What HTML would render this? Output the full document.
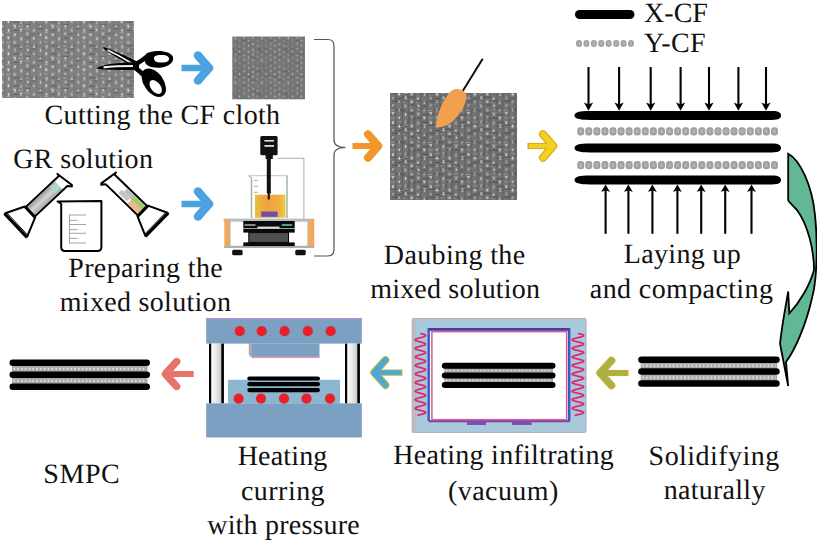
<!DOCTYPE html>
<html><head><meta charset="utf-8">
<style>
html,body{margin:0;padding:0;background:#fff;}
body{width:817px;height:542px;overflow:hidden;position:relative;}
svg{position:absolute;left:0;top:0;}
text{font-family:"Liberation Serif",serif;font-size:28px;fill:#111;text-rendering:geometricPrecision;}
</style></head><body>
<svg width="817" height="542" viewBox="0 0 817 542">
<defs>
<pattern id="cloth" width="37.8" height="32" patternUnits="userSpaceOnUse" ><rect width="37.8" height="32" fill="#828282"/><rect x="-0.7" y="1.3" width="3.3" height="1.0" fill="#5e5e5e"/><rect x="6.3" y="0.1" width="4.3" height="1" fill="#a0a0a0"/><rect x="11.8" y="0.8" width="6.3" height="1.0" fill="#5e5e5e"/><rect x="12.0" y="1.3" width="5.8" height="1" fill="#a0a0a0"/><rect x="25.9" y="0.6" width="3.4" height="1" fill="#a0a0a0"/><rect x="31.1" y="1.6" width="3.7" height="1.0" fill="#5e5e5e"/><rect x="5.4" y="4.4" width="5.0" height="1" fill="#a0a0a0"/><rect x="25.8" y="5.4" width="4.0" height="1.0" fill="#5e5e5e"/><rect x="6.1" y="9.5" width="3.5" height="1" fill="#a0a0a0"/><rect x="12.9" y="9.5" width="4.7" height="1" fill="#a0a0a0"/><rect x="13.0" y="13.3" width="7.0" height="1.0" fill="#5e5e5e"/><rect x="18.7" y="13.3" width="3.1" height="1.0" fill="#5e5e5e"/><rect x="24.4" y="12.1" width="6.1" height="1.0" fill="#5e5e5e"/><rect x="24.7" y="12.8" width="5.6" height="1" fill="#a0a0a0"/><rect x="31.4" y="13.1" width="6.5" height="1.0" fill="#5e5e5e"/><rect x="18.3" y="16.5" width="3.9" height="1.0" fill="#5e5e5e"/><rect x="31.3" y="16.7" width="5.3" height="1.0" fill="#5e5e5e"/><rect x="13.4" y="21.6" width="6.5" height="1.0" fill="#5e5e5e"/><rect x="25.5" y="20.1" width="3.3" height="1.0" fill="#5e5e5e"/><rect x="24.5" y="20.7" width="3.2" height="1" fill="#a0a0a0"/><rect x="30.8" y="20.2" width="4.5" height="1.0" fill="#5e5e5e"/><rect x="32.2" y="21.2" width="3.4" height="1" fill="#a0a0a0"/><rect x="-0.3" y="24.7" width="3.5" height="1.0" fill="#5e5e5e"/><rect x="11.8" y="24.7" width="3.8" height="1" fill="#a0a0a0"/><rect x="17.9" y="25.9" width="4.6" height="1" fill="#a0a0a0"/><rect x="25.3" y="24.1" width="5.1" height="1.0" fill="#5e5e5e"/><rect x="-0.3" y="28.3" width="6.1" height="1.0" fill="#5e5e5e"/><rect x="13.2" y="30.0" width="6.4" height="1.0" fill="#5e5e5e"/><rect x="25.2" y="28.7" width="3.1" height="1.0" fill="#5e5e5e"/><rect x="24.8" y="28.5" width="5.1" height="1" fill="#a0a0a0"/><rect x="4.8" y="0" width="0.8" height="32" fill="#727272"/><rect x="11.1" y="0" width="0.8" height="32" fill="#727272"/><rect x="17.4" y="0" width="0.8" height="32" fill="#727272"/><rect x="23.7" y="0" width="0.8" height="32" fill="#727272"/><rect x="30.0" y="0" width="0.8" height="32" fill="#727272"/><rect x="36.3" y="0" width="0.8" height="32" fill="#727272"/><rect x="1.9" y="1.5" width="1.4" height="2.3" fill="#e6e6e6"/><rect x="7.7" y="4.7" width="1.4" height="2.4" fill="#e6e6e6"/><rect x="14.3" y="1.4" width="1.4" height="2.8" fill="#d8d8d8"/><rect x="20.6" y="5.2" width="1.4" height="3.2" fill="#d8d8d8"/><rect x="26.6" y="0.6" width="1.4" height="2.8" fill="#c8c8c8"/><rect x="32.9" y="5.2" width="1.4" height="2.3" fill="#e6e6e6"/><rect x="1.9" y="9.1" width="1.4" height="2.7" fill="#b8b8b8"/><rect x="8.2" y="13.1" width="1.4" height="3.4" fill="#c8c8c8"/><rect x="13.9" y="8.9" width="1.4" height="3.2" fill="#b8b8b8"/><rect x="20.3" y="13.2" width="1.4" height="3.0" fill="#b8b8b8"/><rect x="26.7" y="8.8" width="1.4" height="2.2" fill="#c8c8c8"/><rect x="33.3" y="13.1" width="1.4" height="2.8" fill="#d8d8d8"/><rect x="1.9" y="16.7" width="1.4" height="3.2" fill="#c8c8c8"/><rect x="7.7" y="20.4" width="1.4" height="2.8" fill="#e6e6e6"/><rect x="14.4" y="16.5" width="1.4" height="3.2" fill="#b8b8b8"/><rect x="20.2" y="21.1" width="1.4" height="3.0" fill="#b8b8b8"/><rect x="27.0" y="16.8" width="1.4" height="2.8" fill="#c8c8c8"/><rect x="33.1" y="20.0" width="1.4" height="3.1" fill="#b8b8b8"/><rect x="1.7" y="25.2" width="1.4" height="2.4" fill="#c8c8c8"/><rect x="7.9" y="29.1" width="1.4" height="2.6" fill="#d8d8d8"/><rect x="14.2" y="24.8" width="1.4" height="3.3" fill="#d8d8d8"/><rect x="20.2" y="28.3" width="1.4" height="3.1" fill="#d8d8d8"/><rect x="26.8" y="24.8" width="1.4" height="2.7" fill="#d8d8d8"/><rect x="33.2" y="28.8" width="1.4" height="3.0" fill="#c8c8c8"/></pattern><pattern id="clothS" width="37.8" height="32" patternUnits="userSpaceOnUse" patternTransform="scale(0.7)"><rect width="37.8" height="32" fill="#767676"/><rect x="18.9" y="1.3" width="6.2" height="1.0" fill="#5a5a5a"/><rect x="18.5" y="0.2" width="5.4" height="1" fill="#929292"/><rect x="26.2" y="1.9" width="5.0" height="1" fill="#929292"/><rect x="30.5" y="1.1" width="3.2" height="1" fill="#929292"/><rect x="-0.5" y="4.1" width="4.9" height="1.0" fill="#5a5a5a"/><rect x="26.2" y="6.0" width="6.4" height="1.0" fill="#5a5a5a"/><rect x="31.0" y="4.6" width="3.3" height="1.0" fill="#5a5a5a"/><rect x="12.0" y="9.8" width="4.4" height="1" fill="#929292"/><rect x="25.5" y="9.6" width="4.1" height="1.0" fill="#5a5a5a"/><rect x="24.9" y="9.9" width="5.3" height="1" fill="#929292"/><rect x="31.0" y="8.2" width="3.2" height="1.0" fill="#5a5a5a"/><rect x="0.1" y="12.9" width="3.8" height="1.0" fill="#5a5a5a"/><rect x="6.6" y="12.2" width="4.7" height="1.0" fill="#5a5a5a"/><rect x="5.8" y="13.9" width="5.4" height="1" fill="#929292"/><rect x="13.4" y="12.4" width="4.6" height="1.0" fill="#5a5a5a"/><rect x="19.9" y="12.4" width="3.8" height="1" fill="#929292"/><rect x="30.6" y="12.2" width="5.3" height="1.0" fill="#5a5a5a"/><rect x="31.7" y="12.7" width="4.4" height="1" fill="#929292"/><rect x="11.9" y="17.8" width="6.3" height="1.0" fill="#5a5a5a"/><rect x="12.0" y="17.5" width="5.8" height="1" fill="#929292"/><rect x="19.8" y="17.8" width="5.4" height="1.0" fill="#5a5a5a"/><rect x="24.3" y="17.9" width="4.0" height="1.0" fill="#5a5a5a"/><rect x="32.1" y="17.2" width="4.2" height="1.0" fill="#5a5a5a"/><rect x="31.9" y="16.1" width="3.7" height="1" fill="#929292"/><rect x="11.6" y="20.5" width="4.3" height="1" fill="#929292"/><rect x="18.3" y="20.7" width="5.3" height="1.0" fill="#5a5a5a"/><rect x="18.6" y="21.8" width="5.9" height="1" fill="#929292"/><rect x="30.6" y="20.0" width="5.7" height="1" fill="#929292"/><rect x="6.6" y="25.0" width="5.9" height="1.0" fill="#5a5a5a"/><rect x="12.7" y="25.5" width="5.7" height="1" fill="#929292"/><rect x="31.8" y="30.0" width="6.5" height="1.0" fill="#5a5a5a"/><rect x="4.8" y="0" width="0.8" height="32" fill="#727272"/><rect x="11.1" y="0" width="0.8" height="32" fill="#727272"/><rect x="17.4" y="0" width="0.8" height="32" fill="#727272"/><rect x="23.7" y="0" width="0.8" height="32" fill="#727272"/><rect x="30.0" y="0" width="0.8" height="32" fill="#727272"/><rect x="36.3" y="0" width="0.8" height="32" fill="#727272"/><rect x="1.5" y="1.1" width="1.4" height="2.7" fill="#9a9a9a"/><rect x="8.1" y="4.1" width="1.4" height="2.6" fill="#b8b8b8"/><rect x="14.0" y="0.0" width="1.4" height="2.8" fill="#b8b8b8"/><rect x="20.6" y="5.4" width="1.4" height="3.3" fill="#c8c8c8"/><rect x="26.7" y="0.2" width="1.4" height="2.8" fill="#a8a8a8"/><rect x="33.3" y="4.5" width="1.4" height="2.8" fill="#9a9a9a"/><rect x="1.4" y="8.6" width="1.4" height="2.4" fill="#c8c8c8"/><rect x="7.9" y="13.2" width="1.4" height="3.3" fill="#a8a8a8"/><rect x="14.1" y="8.9" width="1.4" height="2.5" fill="#c8c8c8"/><rect x="20.3" y="12.5" width="1.4" height="3.1" fill="#b8b8b8"/><rect x="27.1" y="8.4" width="1.4" height="2.3" fill="#a8a8a8"/><rect x="33.1" y="13.4" width="1.4" height="2.7" fill="#9a9a9a"/><rect x="1.6" y="17.0" width="1.4" height="2.6" fill="#9a9a9a"/><rect x="8.1" y="20.4" width="1.4" height="3.0" fill="#b8b8b8"/><rect x="14.1" y="16.5" width="1.4" height="3.0" fill="#b8b8b8"/><rect x="20.4" y="20.3" width="1.4" height="2.5" fill="#c8c8c8"/><rect x="26.6" y="16.1" width="1.4" height="2.7" fill="#b8b8b8"/><rect x="33.2" y="21.0" width="1.4" height="3.4" fill="#c8c8c8"/><rect x="1.7" y="24.3" width="1.4" height="2.5" fill="#9a9a9a"/><rect x="8.0" y="29.1" width="1.4" height="2.4" fill="#b8b8b8"/><rect x="14.1" y="24.5" width="1.4" height="2.7" fill="#a8a8a8"/><rect x="20.7" y="29.4" width="1.4" height="2.7" fill="#b8b8b8"/><rect x="27.0" y="24.6" width="1.4" height="2.7" fill="#9a9a9a"/><rect x="33.2" y="29.4" width="1.4" height="2.9" fill="#9a9a9a"/></pattern><pattern id="clothB" width="37.8" height="32" patternUnits="userSpaceOnUse" ><rect width="37.8" height="32" fill="#747474"/><rect x="18.8" y="1.9" width="5.6" height="1.4" fill="#585858"/><rect x="25.1" y="0.5" width="5.2" height="1.4" fill="#585858"/><rect x="30.9" y="0.6" width="6.7" height="1.4" fill="#585858"/><rect x="0.6" y="4.3" width="5.5" height="1.4" fill="#585858"/><rect x="-1.0" y="5.7" width="3.6" height="1" fill="#929292"/><rect x="7.3" y="5.7" width="4.2" height="1.4" fill="#585858"/><rect x="13.0" y="4.4" width="6.8" height="1.4" fill="#585858"/><rect x="24.9" y="4.3" width="3.6" height="1.4" fill="#585858"/><rect x="24.8" y="5.2" width="3.0" height="1" fill="#929292"/><rect x="31.1" y="5.6" width="4.4" height="1" fill="#929292"/><rect x="-0.0" y="9.4" width="3.2" height="1.4" fill="#585858"/><rect x="6.8" y="9.7" width="3.1" height="1.4" fill="#585858"/><rect x="12.8" y="8.0" width="3.2" height="1.4" fill="#585858"/><rect x="13.5" y="8.4" width="5.3" height="1" fill="#929292"/><rect x="24.9" y="9.0" width="6.1" height="1.4" fill="#585858"/><rect x="25.7" y="9.6" width="5.6" height="1" fill="#929292"/><rect x="32.4" y="8.2" width="4.4" height="1.4" fill="#585858"/><rect x="0.8" y="13.1" width="3.9" height="1" fill="#929292"/><rect x="5.7" y="12.2" width="3.6" height="1.4" fill="#585858"/><rect x="11.7" y="14.0" width="4.6" height="1" fill="#929292"/><rect x="18.4" y="13.2" width="6.3" height="1.4" fill="#585858"/><rect x="24.3" y="13.8" width="3.1" height="1.4" fill="#585858"/><rect x="32.0" y="13.9" width="4.9" height="1" fill="#929292"/><rect x="-0.1" y="16.3" width="5.5" height="1" fill="#929292"/><rect x="6.2" y="18.0" width="6.4" height="1.4" fill="#585858"/><rect x="12.6" y="17.5" width="4.9" height="1.4" fill="#585858"/><rect x="12.4" y="16.3" width="4.1" height="1" fill="#929292"/><rect x="30.7" y="16.5" width="6.1" height="1.4" fill="#585858"/><rect x="0.6" y="21.5" width="5.8" height="1.4" fill="#585858"/><rect x="12.6" y="21.5" width="5.1" height="1" fill="#929292"/><rect x="19.8" y="21.3" width="5.3" height="1.4" fill="#585858"/><rect x="19.0" y="20.5" width="5.0" height="1" fill="#929292"/><rect x="25.8" y="21.3" width="6.2" height="1.4" fill="#585858"/><rect x="25.5" y="21.5" width="5.5" height="1" fill="#929292"/><rect x="32.2" y="21.7" width="5.8" height="1.4" fill="#585858"/><rect x="5.6" y="25.7" width="6.7" height="1.4" fill="#585858"/><rect x="19.5" y="25.2" width="5.0" height="1" fill="#929292"/><rect x="25.4" y="25.5" width="5.5" height="1.4" fill="#585858"/><rect x="30.8" y="24.9" width="5.6" height="1.4" fill="#585858"/><rect x="31.9" y="25.3" width="3.1" height="1" fill="#929292"/><rect x="-0.5" y="28.1" width="3.5" height="1.4" fill="#585858"/><rect x="-0.6" y="28.4" width="3.1" height="1" fill="#929292"/><rect x="6.1" y="29.2" width="5.4" height="1.4" fill="#585858"/><rect x="7.1" y="28.0" width="4.2" height="1" fill="#929292"/><rect x="12.4" y="28.2" width="6.3" height="1.4" fill="#585858"/><rect x="19.1" y="28.2" width="5.2" height="1.4" fill="#585858"/><rect x="19.1" y="29.9" width="5.5" height="1" fill="#929292"/><rect x="25.8" y="29.3" width="4.5" height="1.4" fill="#585858"/><rect x="25.4" y="29.1" width="5.9" height="1" fill="#929292"/><rect x="4.8" y="0" width="0.8" height="32" fill="#585858"/><rect x="11.1" y="0" width="0.8" height="32" fill="#585858"/><rect x="17.4" y="0" width="0.8" height="32" fill="#585858"/><rect x="23.7" y="0" width="0.8" height="32" fill="#585858"/><rect x="30.0" y="0" width="0.8" height="32" fill="#585858"/><rect x="36.3" y="0" width="0.8" height="32" fill="#585858"/><rect x="1.5" y="1.3" width="1.4" height="2.7" fill="#d0d0d0"/><rect x="7.8" y="5.4" width="1.4" height="2.6" fill="#c0c0c0"/><rect x="14.4" y="0.8" width="1.4" height="2.7" fill="#b0b0b0"/><rect x="20.3" y="4.4" width="1.4" height="2.7" fill="#b0b0b0"/><rect x="27.0" y="0.2" width="1.4" height="3.1" fill="#e0e0e0"/><rect x="33.0" y="4.4" width="1.4" height="2.6" fill="#d0d0d0"/><rect x="1.9" y="8.7" width="1.4" height="2.4" fill="#e0e0e0"/><rect x="7.6" y="13.0" width="1.4" height="2.5" fill="#b0b0b0"/><rect x="13.9" y="8.2" width="1.4" height="2.2" fill="#b0b0b0"/><rect x="20.5" y="12.4" width="1.4" height="3.1" fill="#b0b0b0"/><rect x="26.6" y="8.4" width="1.4" height="3.1" fill="#c0c0c0"/><rect x="33.0" y="12.7" width="1.4" height="2.8" fill="#b0b0b0"/><rect x="1.8" y="17.3" width="1.4" height="2.2" fill="#d0d0d0"/><rect x="7.7" y="20.4" width="1.4" height="2.9" fill="#e0e0e0"/><rect x="14.3" y="16.0" width="1.4" height="2.6" fill="#e0e0e0"/><rect x="20.6" y="20.9" width="1.4" height="2.2" fill="#d0d0d0"/><rect x="26.8" y="17.0" width="1.4" height="3.3" fill="#d0d0d0"/><rect x="33.1" y="20.0" width="1.4" height="2.9" fill="#b0b0b0"/><rect x="1.7" y="25.4" width="1.4" height="3.2" fill="#b0b0b0"/><rect x="8.1" y="28.7" width="1.4" height="3.3" fill="#c0c0c0"/><rect x="14.2" y="25.1" width="1.4" height="3.2" fill="#e0e0e0"/><rect x="20.6" y="28.6" width="1.4" height="3.0" fill="#e0e0e0"/><rect x="26.8" y="24.5" width="1.4" height="2.8" fill="#c0c0c0"/><rect x="33.1" y="28.7" width="1.4" height="2.8" fill="#e0e0e0"/></pattern>
  <linearGradient id="tubeg" x1="0" y1="0" x2="1" y2="0"><stop offset="0" stop-color="#9a9a9a"/><stop offset="0.5" stop-color="#d4d4d4"/><stop offset="1" stop-color="#a4a4a4"/></linearGradient>
  <linearGradient id="liq" x1="0" y1="0" x2="1" y2="0"><stop offset="0" stop-color="#e8c040"/><stop offset="0.4" stop-color="#f0a040"/><stop offset="0.8" stop-color="#f0b040"/><stop offset="1" stop-color="#e8d040"/></linearGradient>
  <linearGradient id="pillar" x1="0" y1="0" x2="1" y2="0"><stop offset="0" stop-color="#ffffff"/><stop offset="0.5" stop-color="#e8e8e8"/><stop offset="1" stop-color="#b8b8b8"/></linearGradient>
</defs>
<rect x="2" y="21" width="132" height="77" fill="url(#cloth)"/>
<rect x="232.3" y="36.5" width="72.7" height="62.8" fill="url(#clothS)"/>
<rect x="390" y="93" width="127" height="107" fill="url(#clothB)"/>
<g transform="translate(181.00,51.00) scale(1.0000,1.0000)"><line x1="0.5" y1="17" x2="26" y2="17" stroke="#4aa3df" stroke-width="6.50" /><polyline points="17,4.5 28,17 17,29.5" fill="none" stroke="#4aa3df" stroke-width="8.50" stroke-linecap="round" stroke-linejoin="round"/></g>
<g transform="translate(181.00,187.00) scale(1.0000,1.0000)"><line x1="0.5" y1="17" x2="26" y2="17" stroke="#4aa3df" stroke-width="6.50" /><polyline points="17,4.5 28,17 17,29.5" fill="none" stroke="#4aa3df" stroke-width="8.50" stroke-linecap="round" stroke-linejoin="round"/></g>
<g transform="translate(352.00,130.00) scale(0.9375,0.9412)"><line x1="0.5" y1="17" x2="26" y2="17" stroke="#f0962a" stroke-width="6.50" /><polyline points="17,4.5 28,17 17,29.5" fill="none" stroke="#f0962a" stroke-width="8.50" stroke-linecap="round" stroke-linejoin="round"/></g>
<g transform="translate(527.00,130.00) scale(0.9375,0.9412)"><line x1="0.5" y1="17" x2="26" y2="17" stroke="#d8a818" stroke-width="6.50" /><polyline points="17,4.5 28,17 17,29.5" fill="none" stroke="#d8a818" stroke-width="8.50" stroke-linecap="round" stroke-linejoin="round"/><line x1="2" y1="17" x2="25" y2="17" stroke="#f4d020" stroke-width="4.50"/><polyline points="17,4.5 28,17 17,29.5" fill="none" stroke="#f4d020" stroke-width="6.10" stroke-linecap="round" stroke-linejoin="round"/></g>
<g>
  <path d="M103.5,47 C112,49.5 127,56.5 138.5,62 L136,68 C124,62 111,54 103.5,48.6 Z" fill="#000"/>
  <path d="M107.5,50 C115,53.5 124,58.5 132,63.5" stroke="#f0f0f0" stroke-width="1.8" fill="none"/>
  <path d="M97,67.8 C104,63.8 122,62.4 139,62 L139,70 C122,70.2 104,70 97,68.6 Z" fill="#000"/>
  <path d="M103.5,67.3 C112,66.3 124,66 133,66" stroke="#f0f0f0" stroke-width="2.2" fill="none"/>
  <path d="M134,64.5 C140,63 143,59 148,56" stroke="#000" stroke-width="4.5" fill="none"/>
  <path d="M146,54 C151,50 168,49.5 172.5,56 C175.5,62 168,67.7 158,67.7 C150,67.7 143,65 145,58 Z" fill="#000"/>
  <path d="M154,58 C154,55.5 158,55 162,55 C167,55 169.5,57 169,59.5 C168.5,62 165,62.5 160,62.5 C156,62.5 154,61 154,58 Z" fill="#fff"/>
  <path d="M134,67 C138,70 141,72 143,75" stroke="#000" stroke-width="4.5" fill="none"/>
  <ellipse cx="153.8" cy="82.7" rx="16" ry="9.8" transform="rotate(55 153.8 82.7)" fill="#000"/>
  <ellipse cx="155.7" cy="87" rx="8" ry="4.8" transform="rotate(52 155.7 87)" fill="#fff"/>
</g>
<path d="M314,39.5 L328,39.5 Q334,39.5 334,46 L334,140 Q334,147.5 345.5,147.5 Q334,147.5 334,155 L334,249 Q334,256 328,256 L314,256" fill="none" stroke="#555" stroke-width="1.2"/>
<g transform="translate(64.3,179.8) rotate(46.8)">
  <path d="M-6.5,1 L-6.5,47 L6.5,47 L6.5,2 L10,-1 L9,-2 L-9,1 Z" fill="#fff" stroke="#000" stroke-width="2" stroke-linejoin="round"/>
  <rect x="-5.5" y="8" width="11" height="38" fill="url(#tubeg)"/>
  <rect x="-4.5" y="8" width="8" height="8" fill="#a8dcd4" opacity="0.85"/>
  <path d="M-7.5,47 L7.5,47 L16,66 L-16,66 Z" fill="#fff" stroke="#000" stroke-width="2" stroke-linejoin="round"/>
  <rect x="-7.5" y="45.5" width="15" height="3" fill="#000"/>
  <path d="M-16.5,67 L16.5,67" stroke="#000" stroke-width="2.4"/>
  <path d="M-15,64.5 L15,64.5" stroke="#000" stroke-width="0.9"/>
</g>
<g transform="translate(109,178.3) rotate(-45.9)">
  <path d="M6.5,1 L6.5,47 L-6.5,47 L-6.5,2 L-10,-1 L-9,-2 L9,1 Z" fill="#fff" stroke="#000" stroke-width="2" stroke-linejoin="round"/>
  <rect x="-4" y="17" width="4.5" height="12" fill="#c4c4c4"/>
  <rect x="0.5" y="20" width="5" height="9" fill="#b8c0cc"/>
  <rect x="0" y="29" width="5.5" height="17" fill="#a8c870"/>
  <rect x="-5.5" y="31" width="6" height="15" fill="#e8b890"/>
  <path d="M-7.5,47 L7.5,47 L16,66 L-16,66 Z" fill="#fff" stroke="#000" stroke-width="2" stroke-linejoin="round"/>
  <rect x="-7.5" y="45.5" width="15" height="3" fill="#000"/>
  <path d="M-16.5,67 L16.5,67" stroke="#000" stroke-width="2.4"/>
  <path d="M-15,64.5 L15,64.5" stroke="#000" stroke-width="0.9"/>
</g>
<path d="M57.5,201.5 L60,203 L61.2,204 L61.2,247 Q61.2,251 65,251 L97.5,251 Q101.4,251 101.4,247 L101.4,201 L57.5,201.5 Z" fill="#fff" stroke="#000" stroke-width="2" stroke-linejoin="round"/>
<g stroke="#999" stroke-width="0.9">
  <path d="M69.5,214.5 L69.5,243.5"/>
  <path d="M69.5,215 L86,215 M69.5,220.3 L77.7,220.3 M69.5,224.5 L86,224.5 M69.5,229.6 L77.7,229.6 M69.5,233.3 L86,233.3 M69.5,238.4 L77.7,238.4 M69.5,243 L86,243"/>
</g>
<g>
  <path d="M277.6,158.3 L303.9,158.3 L303.9,218.7" fill="none" stroke="#aaa" stroke-width="1"/>
  <rect x="255" y="194.7" width="30.5" height="23" fill="url(#liq)"/>
  <rect x="261.2" y="211.5" width="16.4" height="5.3" fill="#6a50a8"/>
  <path d="M249,176 L251.5,178 L251.5,218 M287,175.6 L287,218" fill="none" stroke="#9fb5ae" stroke-width="1.5"/>
  <path d="M248.5,175.6 L287.5,175.6" stroke="#c8d0cc" stroke-width="1.2"/>
  <path d="M254,180.4 L258,180.4 M254,186.4 L258,186.4 M254,192.3 L258,192.3" stroke="#9fb5ae" stroke-width="1"/>
  <rect x="260.3" y="136" width="17.3" height="19.2" rx="1.5" fill="#111"/>
  <rect x="264.4" y="140" width="9.6" height="1.6" fill="#ddd"/>
  <rect x="264.4" y="145" width="9.6" height="1.8" fill="#ddd"/>
  <rect x="265.6" y="155" width="7.2" height="4" fill="#111"/>
  <rect x="266.8" y="158.5" width="4" height="35" fill="#111"/>
  <rect x="267.8" y="193" width="2" height="6.5" fill="#111"/>
  <rect x="223.6" y="218.6" width="90.6" height="3" fill="#b8bcc0"/>
  <rect x="224.3" y="219.8" width="6.1" height="28.2" fill="#f0a860"/>
  <rect x="307.5" y="219.8" width="6.7" height="28.2" fill="#f0a860"/>
  <rect x="230.4" y="221.6" width="77.1" height="24.4" fill="#fff" stroke="#c8d4dc" stroke-width="1"/>
  <rect x="224.3" y="246" width="89.9" height="2" fill="#b0b0b0"/>
  <rect x="243.3" y="221" width="51.4" height="7.4" fill="#0a0a0a"/>
  <rect x="244.5" y="224" width="11" height="2" fill="#888"/>
  <rect x="281.8" y="224" width="10.4" height="2" fill="#5a9a88"/>
  <rect x="257.5" y="226.6" width="22" height="2" fill="#ddd"/>
  <rect x="243.3" y="229" width="51.4" height="3.6" fill="#0a0a0a"/>
  <rect x="248.8" y="232.6" width="39.7" height="9.8" fill="#505050" stroke="#000" stroke-width="1"/>
  <rect x="243.3" y="242.4" width="51.4" height="3.7" fill="#0a0a0a"/>
  <rect x="232.2" y="249.8" width="10.4" height="5.5" rx="1.5" fill="#111"/>
  <rect x="295.3" y="249.8" width="10.4" height="5.5" rx="1.5" fill="#111"/>
</g>
<path d="M482.7,58.8 L462.6,91.3" stroke="#111" stroke-width="2"/>
<path d="M436,127 C436,118 441,104 447,96 C450,91 453,89 457,89 C462,89 467,92 466.5,97 C466,104 461,113 455,119 C450,124 444,128 436,127 Z" fill="#f0a050"/>
<rect x="575" y="10" width="59.5" height="9" rx="4.5" fill="#000"/>
<rect x="576.00" y="39.90" width="6.00" height="7.20" rx="3" fill="#a0a0a0"/>
<rect x="577.80" y="41.50" width="2.40" height="4.00" fill="#b4b4b4"/>
<rect x="583.43" y="39.90" width="6.00" height="7.20" rx="3" fill="#a0a0a0"/>
<rect x="585.23" y="41.50" width="2.40" height="4.00" fill="#b4b4b4"/>
<rect x="590.86" y="39.90" width="6.00" height="7.20" rx="3" fill="#a0a0a0"/>
<rect x="592.66" y="41.50" width="2.40" height="4.00" fill="#b4b4b4"/>
<rect x="598.29" y="39.90" width="6.00" height="7.20" rx="3" fill="#a0a0a0"/>
<rect x="600.09" y="41.50" width="2.40" height="4.00" fill="#b4b4b4"/>
<rect x="605.71" y="39.90" width="6.00" height="7.20" rx="3" fill="#a0a0a0"/>
<rect x="607.51" y="41.50" width="2.40" height="4.00" fill="#b4b4b4"/>
<rect x="613.14" y="39.90" width="6.00" height="7.20" rx="3" fill="#a0a0a0"/>
<rect x="614.94" y="41.50" width="2.40" height="4.00" fill="#b4b4b4"/>
<rect x="620.57" y="39.90" width="6.00" height="7.20" rx="3" fill="#a0a0a0"/>
<rect x="622.37" y="41.50" width="2.40" height="4.00" fill="#b4b4b4"/>
<rect x="628.00" y="39.90" width="6.00" height="7.20" rx="3" fill="#a0a0a0"/>
<rect x="629.80" y="41.50" width="2.40" height="4.00" fill="#b4b4b4"/>
<line x1="588.5" y1="67" x2="588.5" y2="105" stroke="#000" stroke-width="2.1"/><path d="M588.5,110.8 L583.9,102.6 L588.5,104.6 L593.1,102.6 Z" fill="#000"/>
<line x1="619.1" y1="67" x2="619.1" y2="105" stroke="#000" stroke-width="2.1"/><path d="M619.1,110.8 L614.5,102.6 L619.1,104.6 L623.7,102.6 Z" fill="#000"/>
<line x1="650.7" y1="67" x2="650.7" y2="105" stroke="#000" stroke-width="2.1"/><path d="M650.7,110.8 L646.1,102.6 L650.7,104.6 L655.3,102.6 Z" fill="#000"/>
<line x1="680.6" y1="67" x2="680.6" y2="105" stroke="#000" stroke-width="2.1"/><path d="M680.6,110.8 L676.0,102.6 L680.6,104.6 L685.2,102.6 Z" fill="#000"/>
<line x1="709.0" y1="67" x2="709.0" y2="105" stroke="#000" stroke-width="2.1"/><path d="M709.0,110.8 L704.4,102.6 L709.0,104.6 L713.6,102.6 Z" fill="#000"/>
<line x1="738.4" y1="67" x2="738.4" y2="105" stroke="#000" stroke-width="2.1"/><path d="M738.4,110.8 L733.8,102.6 L738.4,104.6 L743.0,102.6 Z" fill="#000"/>
<line x1="766.0" y1="67" x2="766.0" y2="105" stroke="#000" stroke-width="2.1"/><path d="M766.0,110.8 L761.4,102.6 L766.0,104.6 L770.6,102.6 Z" fill="#000"/>
<line x1="605.6" y1="233.8" x2="605.6" y2="189" stroke="#000" stroke-width="2.1"/><path d="M605.6,184.6 L601.2,192 L605.6,190.2 L610.0,192 Z" fill="#000"/>
<line x1="628.4" y1="233.8" x2="628.4" y2="189" stroke="#000" stroke-width="2.1"/><path d="M628.4,184.6 L624.0,192 L628.4,190.2 L632.8,192 Z" fill="#000"/>
<line x1="652.4" y1="233.8" x2="652.4" y2="189" stroke="#000" stroke-width="2.1"/><path d="M652.4,184.6 L648.0,192 L652.4,190.2 L656.8,192 Z" fill="#000"/>
<line x1="677.4" y1="233.8" x2="677.4" y2="189" stroke="#000" stroke-width="2.1"/><path d="M677.4,184.6 L673.0,192 L677.4,190.2 L681.8,192 Z" fill="#000"/>
<line x1="701.2" y1="233.8" x2="701.2" y2="189" stroke="#000" stroke-width="2.1"/><path d="M701.2,184.6 L696.8,192 L701.2,190.2 L705.6,192 Z" fill="#000"/>
<line x1="725.2" y1="233.8" x2="725.2" y2="189" stroke="#000" stroke-width="2.1"/><path d="M725.2,184.6 L720.8,192 L725.2,190.2 L729.6,192 Z" fill="#000"/>
<line x1="751.5" y1="233.8" x2="751.5" y2="189" stroke="#000" stroke-width="2.1"/><path d="M751.5,184.6 L747.1,192 L751.5,190.2 L755.9,192 Z" fill="#000"/>
<path d="M574.5,115.5 C574.5,112.5 579,111.1 590,111.1 L772,111.1 C779,111.1 781,113.0 781,115.5 C781,118.0 779,119.9 772,119.9 L590,119.9 C579,119.9 574.5,118.5 574.5,115.5 Z" fill="#000"/>
<path d="M574.5,148.0 C574.5,145.0 579,143.6 590,143.6 L772,143.6 C779,143.6 781,145.5 781,148.0 C781,150.5 779,152.4 772,152.4 L590,152.4 C579,152.4 574.5,151.0 574.5,148.0 Z" fill="#000"/>
<path d="M574.5,180.0 C574.5,177.0 579,175.6 590,175.6 L772,175.6 C779,175.6 781,177.5 781,180.0 C781,182.5 779,184.4 772,184.4 L590,184.4 C579,184.4 574.5,183.0 574.5,180.0 Z" fill="#000"/>
<rect x="577.20" y="127.20" width="7.00" height="8.20" rx="3" fill="#a0a0a0"/>
<rect x="579.50" y="129.30" width="2.40" height="4.00" fill="#b4b4b4"/>
<rect x="585.28" y="127.20" width="7.00" height="8.20" rx="3" fill="#a0a0a0"/>
<rect x="587.58" y="129.30" width="2.40" height="4.00" fill="#b4b4b4"/>
<rect x="593.35" y="127.20" width="7.00" height="8.20" rx="3" fill="#a0a0a0"/>
<rect x="595.65" y="129.30" width="2.40" height="4.00" fill="#b4b4b4"/>
<rect x="601.43" y="127.20" width="7.00" height="8.20" rx="3" fill="#a0a0a0"/>
<rect x="603.73" y="129.30" width="2.40" height="4.00" fill="#b4b4b4"/>
<rect x="609.50" y="127.20" width="7.00" height="8.20" rx="3" fill="#a0a0a0"/>
<rect x="611.80" y="129.30" width="2.40" height="4.00" fill="#b4b4b4"/>
<rect x="617.58" y="127.20" width="7.00" height="8.20" rx="3" fill="#a0a0a0"/>
<rect x="619.88" y="129.30" width="2.40" height="4.00" fill="#b4b4b4"/>
<rect x="625.65" y="127.20" width="7.00" height="8.20" rx="3" fill="#a0a0a0"/>
<rect x="627.95" y="129.30" width="2.40" height="4.00" fill="#b4b4b4"/>
<rect x="633.73" y="127.20" width="7.00" height="8.20" rx="3" fill="#a0a0a0"/>
<rect x="636.02" y="129.30" width="2.40" height="4.00" fill="#b4b4b4"/>
<rect x="641.80" y="127.20" width="7.00" height="8.20" rx="3" fill="#a0a0a0"/>
<rect x="644.10" y="129.30" width="2.40" height="4.00" fill="#b4b4b4"/>
<rect x="649.88" y="127.20" width="7.00" height="8.20" rx="3" fill="#a0a0a0"/>
<rect x="652.17" y="129.30" width="2.40" height="4.00" fill="#b4b4b4"/>
<rect x="657.95" y="127.20" width="7.00" height="8.20" rx="3" fill="#a0a0a0"/>
<rect x="660.25" y="129.30" width="2.40" height="4.00" fill="#b4b4b4"/>
<rect x="666.02" y="127.20" width="7.00" height="8.20" rx="3" fill="#a0a0a0"/>
<rect x="668.32" y="129.30" width="2.40" height="4.00" fill="#b4b4b4"/>
<rect x="674.10" y="127.20" width="7.00" height="8.20" rx="3" fill="#a0a0a0"/>
<rect x="676.40" y="129.30" width="2.40" height="4.00" fill="#b4b4b4"/>
<rect x="682.17" y="127.20" width="7.00" height="8.20" rx="3" fill="#a0a0a0"/>
<rect x="684.47" y="129.30" width="2.40" height="4.00" fill="#b4b4b4"/>
<rect x="690.25" y="127.20" width="7.00" height="8.20" rx="3" fill="#a0a0a0"/>
<rect x="692.55" y="129.30" width="2.40" height="4.00" fill="#b4b4b4"/>
<rect x="698.33" y="127.20" width="7.00" height="8.20" rx="3" fill="#a0a0a0"/>
<rect x="700.62" y="129.30" width="2.40" height="4.00" fill="#b4b4b4"/>
<rect x="706.40" y="127.20" width="7.00" height="8.20" rx="3" fill="#a0a0a0"/>
<rect x="708.70" y="129.30" width="2.40" height="4.00" fill="#b4b4b4"/>
<rect x="714.48" y="127.20" width="7.00" height="8.20" rx="3" fill="#a0a0a0"/>
<rect x="716.77" y="129.30" width="2.40" height="4.00" fill="#b4b4b4"/>
<rect x="722.55" y="127.20" width="7.00" height="8.20" rx="3" fill="#a0a0a0"/>
<rect x="724.85" y="129.30" width="2.40" height="4.00" fill="#b4b4b4"/>
<rect x="730.62" y="127.20" width="7.00" height="8.20" rx="3" fill="#a0a0a0"/>
<rect x="732.92" y="129.30" width="2.40" height="4.00" fill="#b4b4b4"/>
<rect x="738.70" y="127.20" width="7.00" height="8.20" rx="3" fill="#a0a0a0"/>
<rect x="741.00" y="129.30" width="2.40" height="4.00" fill="#b4b4b4"/>
<rect x="746.77" y="127.20" width="7.00" height="8.20" rx="3" fill="#a0a0a0"/>
<rect x="749.07" y="129.30" width="2.40" height="4.00" fill="#b4b4b4"/>
<rect x="754.85" y="127.20" width="7.00" height="8.20" rx="3" fill="#a0a0a0"/>
<rect x="757.15" y="129.30" width="2.40" height="4.00" fill="#b4b4b4"/>
<rect x="762.92" y="127.20" width="7.00" height="8.20" rx="3" fill="#a0a0a0"/>
<rect x="765.22" y="129.30" width="2.40" height="4.00" fill="#b4b4b4"/>
<rect x="771.00" y="127.20" width="7.00" height="8.20" rx="3" fill="#a0a0a0"/>
<rect x="773.30" y="129.30" width="2.40" height="4.00" fill="#b4b4b4"/>
<rect x="577.20" y="161.10" width="7.00" height="8.20" rx="3" fill="#a0a0a0"/>
<rect x="579.50" y="163.20" width="2.40" height="4.00" fill="#b4b4b4"/>
<rect x="585.28" y="161.10" width="7.00" height="8.20" rx="3" fill="#a0a0a0"/>
<rect x="587.58" y="163.20" width="2.40" height="4.00" fill="#b4b4b4"/>
<rect x="593.35" y="161.10" width="7.00" height="8.20" rx="3" fill="#a0a0a0"/>
<rect x="595.65" y="163.20" width="2.40" height="4.00" fill="#b4b4b4"/>
<rect x="601.43" y="161.10" width="7.00" height="8.20" rx="3" fill="#a0a0a0"/>
<rect x="603.73" y="163.20" width="2.40" height="4.00" fill="#b4b4b4"/>
<rect x="609.50" y="161.10" width="7.00" height="8.20" rx="3" fill="#a0a0a0"/>
<rect x="611.80" y="163.20" width="2.40" height="4.00" fill="#b4b4b4"/>
<rect x="617.58" y="161.10" width="7.00" height="8.20" rx="3" fill="#a0a0a0"/>
<rect x="619.88" y="163.20" width="2.40" height="4.00" fill="#b4b4b4"/>
<rect x="625.65" y="161.10" width="7.00" height="8.20" rx="3" fill="#a0a0a0"/>
<rect x="627.95" y="163.20" width="2.40" height="4.00" fill="#b4b4b4"/>
<rect x="633.73" y="161.10" width="7.00" height="8.20" rx="3" fill="#a0a0a0"/>
<rect x="636.02" y="163.20" width="2.40" height="4.00" fill="#b4b4b4"/>
<rect x="641.80" y="161.10" width="7.00" height="8.20" rx="3" fill="#a0a0a0"/>
<rect x="644.10" y="163.20" width="2.40" height="4.00" fill="#b4b4b4"/>
<rect x="649.88" y="161.10" width="7.00" height="8.20" rx="3" fill="#a0a0a0"/>
<rect x="652.17" y="163.20" width="2.40" height="4.00" fill="#b4b4b4"/>
<rect x="657.95" y="161.10" width="7.00" height="8.20" rx="3" fill="#a0a0a0"/>
<rect x="660.25" y="163.20" width="2.40" height="4.00" fill="#b4b4b4"/>
<rect x="666.02" y="161.10" width="7.00" height="8.20" rx="3" fill="#a0a0a0"/>
<rect x="668.32" y="163.20" width="2.40" height="4.00" fill="#b4b4b4"/>
<rect x="674.10" y="161.10" width="7.00" height="8.20" rx="3" fill="#a0a0a0"/>
<rect x="676.40" y="163.20" width="2.40" height="4.00" fill="#b4b4b4"/>
<rect x="682.17" y="161.10" width="7.00" height="8.20" rx="3" fill="#a0a0a0"/>
<rect x="684.47" y="163.20" width="2.40" height="4.00" fill="#b4b4b4"/>
<rect x="690.25" y="161.10" width="7.00" height="8.20" rx="3" fill="#a0a0a0"/>
<rect x="692.55" y="163.20" width="2.40" height="4.00" fill="#b4b4b4"/>
<rect x="698.33" y="161.10" width="7.00" height="8.20" rx="3" fill="#a0a0a0"/>
<rect x="700.62" y="163.20" width="2.40" height="4.00" fill="#b4b4b4"/>
<rect x="706.40" y="161.10" width="7.00" height="8.20" rx="3" fill="#a0a0a0"/>
<rect x="708.70" y="163.20" width="2.40" height="4.00" fill="#b4b4b4"/>
<rect x="714.48" y="161.10" width="7.00" height="8.20" rx="3" fill="#a0a0a0"/>
<rect x="716.77" y="163.20" width="2.40" height="4.00" fill="#b4b4b4"/>
<rect x="722.55" y="161.10" width="7.00" height="8.20" rx="3" fill="#a0a0a0"/>
<rect x="724.85" y="163.20" width="2.40" height="4.00" fill="#b4b4b4"/>
<rect x="730.62" y="161.10" width="7.00" height="8.20" rx="3" fill="#a0a0a0"/>
<rect x="732.92" y="163.20" width="2.40" height="4.00" fill="#b4b4b4"/>
<rect x="738.70" y="161.10" width="7.00" height="8.20" rx="3" fill="#a0a0a0"/>
<rect x="741.00" y="163.20" width="2.40" height="4.00" fill="#b4b4b4"/>
<rect x="746.77" y="161.10" width="7.00" height="8.20" rx="3" fill="#a0a0a0"/>
<rect x="749.07" y="163.20" width="2.40" height="4.00" fill="#b4b4b4"/>
<rect x="754.85" y="161.10" width="7.00" height="8.20" rx="3" fill="#a0a0a0"/>
<rect x="757.15" y="163.20" width="2.40" height="4.00" fill="#b4b4b4"/>
<rect x="762.92" y="161.10" width="7.00" height="8.20" rx="3" fill="#a0a0a0"/>
<rect x="765.22" y="163.20" width="2.40" height="4.00" fill="#b4b4b4"/>
<rect x="771.00" y="161.10" width="7.00" height="8.20" rx="3" fill="#a0a0a0"/>
<rect x="773.30" y="163.20" width="2.40" height="4.00" fill="#b4b4b4"/>
<path d="M788.2,153.8 C800,160 812,185 815,215 C818,245 817,280 812,298 C806,325 795,350 786,362 L788.2,386.2 L780,343.5 C782,325 785,310 788.2,291.5 L789.3,313.5 C800,302 810,285 814,270 C814,250 808,225 797,210 C792,205 789,202 788.2,200.4 Z" fill="#62b794" stroke="#000" stroke-width="1.8" stroke-linejoin="miter"/>
<rect x="640.7" y="361.9" width="136.5" height="7.4" fill="#aaaaaa"/>
<line x1="642.2" y1="365.63" x2="775.7" y2="365.63" stroke="#e0e0e0" stroke-width="2.16" stroke-dasharray="1.6 2.2"/>
<rect x="640.7" y="373.9" width="136.5" height="7.4" fill="#aaaaaa"/>
<line x1="642.2" y1="377.57" x2="775.7" y2="377.57" stroke="#e0e0e0" stroke-width="2.16" stroke-dasharray="1.6 2.2"/>
<rect x="638.2" y="356.4" width="141.5" height="6.5" rx="3.3" fill="#000"/>
<rect x="638.2" y="368.3" width="141.5" height="6.5" rx="3.3" fill="#000"/>
<rect x="638.2" y="380.3" width="141.5" height="6.5" rx="3.3" fill="#000"/>
<rect x="12.0" y="365.1" width="135.5" height="7.4" fill="#aaaaaa"/>
<line x1="13.5" y1="368.83" x2="146.0" y2="368.83" stroke="#e0e0e0" stroke-width="2.16" stroke-dasharray="1.6 2.2"/>
<rect x="12.0" y="377.1" width="135.5" height="7.4" fill="#aaaaaa"/>
<line x1="13.5" y1="380.77" x2="146.0" y2="380.77" stroke="#e0e0e0" stroke-width="2.16" stroke-dasharray="1.6 2.2"/>
<rect x="9.5" y="359.6" width="140.5" height="6.5" rx="3.3" fill="#000"/>
<rect x="9.5" y="371.5" width="140.5" height="6.5" rx="3.3" fill="#000"/>
<rect x="9.5" y="383.5" width="140.5" height="6.5" rx="3.3" fill="#000"/>
<rect x="412.2" y="318.6" width="173.8" height="113.8" rx="1.5" fill="#a8c8dc" stroke="#b4b4b8" stroke-width="1.2"/>
<rect x="413" y="320" width="3" height="112" fill="#b8bcc4"/>
<rect x="428.4" y="328.4" width="141.5" height="93" fill="#fff"/>
<path d="M428.7,420.9 L428.7,329.2 L569.2,329.2 L569.2,420.9" fill="none" stroke="#3a58c0" stroke-width="2.4"/>
<path d="M428.7,421.2 L569.8,421.2" stroke="#8040a0" stroke-width="2.2"/>
<path d="M429,329.4 L569,329.4" stroke="#4a3c9c" stroke-width="2.6"/>
<rect x="431.9" y="331.6" width="134.8" height="88.1" fill="none" stroke="#d860a0" stroke-width="1.6"/>
<rect x="467" y="420.5" width="19" height="4.5" fill="#8050b0"/>
<rect x="512" y="420.5" width="19.6" height="4.5" fill="#8050b0"/>
<polyline points="420.40,333.40 421.18,333.61 421.94,333.81 422.67,334.02 423.35,334.22 423.96,334.43 424.49,334.63 424.92,334.84 425.26,335.04 425.48,335.25 425.59,335.45 425.58,335.66 425.45,335.86 425.21,336.07 424.86,336.27 424.41,336.48 423.86,336.68 423.24,336.89 422.55,337.09 421.82,337.30 421.05,337.50 420.27,337.71 419.49,337.92 418.73,338.12 418.01,338.33 417.34,338.53 416.75,338.74 416.23,338.94 415.81,339.15 415.50,339.35 415.29,339.56 415.20,339.76 415.23,339.97 415.38,340.17 415.64,340.38 416.01,340.58 416.48,340.79 417.04,340.99 417.67,341.20 418.36,341.40 419.11,341.61 419.88,341.82 420.66,342.02 421.44,342.23 422.19,342.43 422.91,342.64 423.56,342.84 424.15,343.05 424.64,343.25 425.05,343.46 425.35,343.66 425.53,343.87 425.60,344.07 425.55,344.28 425.38,344.48 425.11,344.69 424.72,344.89 424.24,345.10 423.66,345.30 423.02,345.51 422.31,345.71 421.57,345.92 420.79,346.13 420.01,346.33 419.23,346.54 418.49,346.74 417.78,346.95 417.14,347.15 416.56,347.36 416.08,347.56 415.69,347.77 415.42,347.97 415.25,348.18 415.20,348.38 415.27,348.59 415.45,348.79 415.75,349.00 416.16,349.20 416.65,349.41 417.24,349.61 417.89,349.82 418.61,350.03 419.36,350.23 420.14,350.44 420.92,350.64 421.69,350.85 422.44,351.05 423.13,351.26 423.76,351.46 424.32,351.67 424.79,351.87 425.16,352.08 425.42,352.28 425.57,352.49 425.60,352.69 425.51,352.90 425.30,353.10 424.99,353.31 424.57,353.51 424.05,353.72 423.46,353.92 422.79,354.13 422.07,354.34 421.31,354.54 420.53,354.75 419.75,354.95 418.98,355.16 418.25,355.36 417.56,355.57 416.94,355.77 416.39,355.98 415.94,356.18 415.59,356.39 415.35,356.59 415.22,356.80 415.21,357.00 415.32,357.21 415.54,357.41 415.88,357.62 416.31,357.82 416.84,358.03 417.45,358.24 418.13,358.44 418.86,358.65 419.62,358.85 420.40,359.06 421.18,359.26 421.94,359.47 422.67,359.67 423.35,359.88 423.96,360.08 424.49,360.29 424.92,360.49 425.26,360.70 425.48,360.90 425.59,361.11 425.58,361.31 425.45,361.52 425.21,361.72 424.86,361.93 424.41,362.13 423.86,362.34 423.24,362.55 422.55,362.75 421.82,362.96 421.05,363.16 420.27,363.37 419.49,363.57 418.73,363.78 418.01,363.98 417.34,364.19 416.75,364.39 416.23,364.60 415.81,364.80 415.50,365.01 415.29,365.21 415.20,365.42 415.23,365.62 415.38,365.83 415.64,366.03 416.01,366.24 416.48,366.45 417.04,366.65 417.67,366.86 418.36,367.06 419.11,367.27 419.88,367.47 420.66,367.68 421.44,367.88 422.19,368.09 422.91,368.29 423.56,368.50 424.15,368.70 424.64,368.91 425.05,369.11 425.35,369.32 425.53,369.52 425.60,369.73 425.55,369.93 425.38,370.14 425.11,370.34 424.72,370.55 424.24,370.76 423.66,370.96 423.02,371.17 422.31,371.37 421.57,371.58 420.79,371.78 420.01,371.99 419.23,372.19 418.49,372.40 417.78,372.60 417.14,372.81 416.56,373.01 416.08,373.22 415.69,373.42 415.42,373.63 415.25,373.83 415.20,374.04 415.27,374.24 415.45,374.45 415.75,374.66 416.16,374.86 416.65,375.07 417.24,375.27 417.89,375.48 418.61,375.68 419.36,375.89 420.14,376.09 420.92,376.30 421.69,376.50 422.44,376.71 423.13,376.91 423.76,377.12 424.32,377.32 424.79,377.53 425.16,377.73 425.42,377.94 425.57,378.14 425.60,378.35 425.51,378.56 425.30,378.76 424.99,378.97 424.57,379.17 424.05,379.38 423.46,379.58 422.79,379.79 422.07,379.99 421.31,380.20 420.53,380.40 419.75,380.61 418.98,380.81 418.25,381.02 417.56,381.22 416.94,381.43 416.39,381.63 415.94,381.84 415.59,382.04 415.35,382.25 415.22,382.45 415.21,382.66 415.32,382.87 415.54,383.07 415.88,383.28 416.31,383.48 416.84,383.69 417.45,383.89 418.13,384.10 418.86,384.30 419.62,384.51 420.40,384.71 421.18,384.92 421.94,385.12 422.67,385.33 423.35,385.53 423.96,385.74 424.49,385.94 424.92,386.15 425.26,386.35 425.48,386.56 425.59,386.76 425.58,386.97 425.45,387.18 425.21,387.38 424.86,387.59 424.41,387.79 423.86,388.00 423.24,388.20 422.55,388.41 421.82,388.61 421.05,388.82 420.27,389.02 419.49,389.23 418.73,389.43 418.01,389.64 417.34,389.84 416.75,390.05 416.23,390.25 415.81,390.46 415.50,390.66 415.29,390.87 415.20,391.08 415.23,391.28 415.38,391.49 415.64,391.69 416.01,391.90 416.48,392.10 417.04,392.31 417.67,392.51 418.36,392.72 419.11,392.92 419.88,393.13 420.66,393.33 421.44,393.54 422.19,393.74 422.91,393.95 423.56,394.15 424.15,394.36 424.64,394.56 425.05,394.77 425.35,394.98 425.53,395.18 425.60,395.39 425.55,395.59 425.38,395.80 425.11,396.00 424.72,396.21 424.24,396.41 423.66,396.62 423.02,396.82 422.31,397.03 421.57,397.23 420.79,397.44 420.01,397.64 419.23,397.85 418.49,398.05 417.78,398.26 417.14,398.46 416.56,398.67 416.08,398.87 415.69,399.08 415.42,399.29 415.25,399.49 415.20,399.70 415.27,399.90 415.45,400.11 415.75,400.31 416.16,400.52 416.65,400.72 417.24,400.93 417.89,401.13 418.61,401.34 419.36,401.54 420.14,401.75 420.92,401.95 421.69,402.16 422.44,402.36 423.13,402.57 423.76,402.77 424.32,402.98 424.79,403.19 425.16,403.39 425.42,403.60 425.57,403.80 425.60,404.01 425.51,404.21 425.30,404.42 424.99,404.62 424.57,404.83 424.05,405.03 423.46,405.24 422.79,405.44 422.07,405.65 421.31,405.85 420.53,406.06 419.75,406.26 418.98,406.47 418.25,406.67 417.56,406.88 416.94,407.08 416.39,407.29 415.94,407.50 415.59,407.70 415.35,407.91 415.22,408.11 415.21,408.32 415.32,408.52 415.54,408.73 415.88,408.93 416.31,409.14 416.84,409.34 417.45,409.55 418.13,409.75 418.86,409.96 419.62,410.16 420.40,410.37 421.18,410.57 421.94,410.78 422.67,410.98 423.35,411.19 423.96,411.39 424.49,411.60 424.92,411.81 425.26,412.01 425.48,412.22 425.59,412.42 425.58,412.63 425.45,412.83 425.21,413.04 424.86,413.24 424.41,413.45 423.86,413.65 423.24,413.86 422.55,414.06 421.82,414.27 421.05,414.47 420.27,414.68 419.49,414.88 418.73,415.09 418.01,415.29 417.34,415.50" fill="none" stroke="#e02a6e" stroke-width="1.80"/>
<polyline points="577.90,333.40 578.76,333.61 579.59,333.81 580.39,334.02 581.13,334.22 581.80,334.43 582.38,334.63 582.86,334.84 583.23,335.04 583.47,335.25 583.59,335.45 583.58,335.66 583.44,335.86 583.17,336.07 582.79,336.27 582.29,336.48 581.70,336.68 581.01,336.89 580.26,337.09 579.46,337.30 578.61,337.50 577.76,337.71 576.90,337.92 576.07,338.12 575.28,338.33 574.55,338.53 573.89,338.74 573.33,338.94 572.87,339.15 572.52,339.35 572.30,339.56 572.20,339.76 572.24,339.97 572.40,340.17 572.68,340.38 573.09,340.58 573.60,340.79 574.21,340.99 574.91,341.20 575.67,341.40 576.48,341.61 577.33,341.82 578.19,342.02 579.04,342.23 579.86,342.43 580.65,342.64 581.37,342.84 582.01,343.05 582.55,343.25 582.99,343.46 583.32,343.66 583.52,343.87 583.60,344.07 583.55,344.28 583.36,344.48 583.06,344.69 582.63,344.89 582.10,345.10 581.48,345.30 580.77,345.51 580.00,345.71 579.18,345.92 578.33,346.13 577.47,346.33 576.62,346.54 575.80,346.74 575.03,346.95 574.32,347.15 573.70,347.36 573.17,347.56 572.74,347.77 572.44,347.97 572.25,348.18 572.20,348.38 572.28,348.59 572.48,348.79 572.81,349.00 573.25,349.20 573.79,349.41 574.43,349.61 575.15,349.82 575.94,350.03 576.76,350.23 577.61,350.44 578.47,350.64 579.32,350.85 580.13,351.05 580.89,351.26 581.59,351.46 582.20,351.67 582.71,351.87 583.12,352.08 583.40,352.28 583.56,352.49 583.60,352.69 583.50,352.90 583.28,353.10 582.93,353.31 582.47,353.51 581.91,353.72 581.25,353.92 580.52,354.13 579.73,354.34 578.90,354.54 578.04,354.75 577.19,354.95 576.34,355.16 575.54,355.36 574.79,355.57 574.10,355.77 573.51,355.98 573.01,356.18 572.63,356.39 572.36,356.59 572.22,356.80 572.21,357.00 572.33,357.21 572.57,357.41 572.94,357.62 573.42,357.82 574.00,358.03 574.67,358.24 575.41,358.44 576.21,358.65 577.04,358.85 577.90,359.06 578.76,359.26 579.59,359.47 580.39,359.67 581.13,359.88 581.80,360.08 582.38,360.29 582.86,360.49 583.23,360.70 583.47,360.90 583.59,361.11 583.58,361.31 583.44,361.52 583.17,361.72 582.79,361.93 582.29,362.13 581.70,362.34 581.01,362.55 580.26,362.75 579.46,362.96 578.61,363.16 577.76,363.37 576.90,363.57 576.07,363.78 575.28,363.98 574.55,364.19 573.89,364.39 573.33,364.60 572.87,364.80 572.52,365.01 572.30,365.21 572.20,365.42 572.24,365.62 572.40,365.83 572.68,366.03 573.09,366.24 573.60,366.45 574.21,366.65 574.91,366.86 575.67,367.06 576.48,367.27 577.33,367.47 578.19,367.68 579.04,367.88 579.86,368.09 580.65,368.29 581.37,368.50 582.01,368.70 582.55,368.91 582.99,369.11 583.32,369.32 583.52,369.52 583.60,369.73 583.55,369.93 583.36,370.14 583.06,370.34 582.63,370.55 582.10,370.76 581.48,370.96 580.77,371.17 580.00,371.37 579.18,371.58 578.33,371.78 577.47,371.99 576.62,372.19 575.80,372.40 575.03,372.60 574.32,372.81 573.70,373.01 573.17,373.22 572.74,373.42 572.44,373.63 572.25,373.83 572.20,374.04 572.28,374.24 572.48,374.45 572.81,374.66 573.25,374.86 573.79,375.07 574.43,375.27 575.15,375.48 575.94,375.68 576.76,375.89 577.61,376.09 578.47,376.30 579.32,376.50 580.13,376.71 580.89,376.91 581.59,377.12 582.20,377.32 582.71,377.53 583.12,377.73 583.40,377.94 583.56,378.14 583.60,378.35 583.50,378.56 583.28,378.76 582.93,378.97 582.47,379.17 581.91,379.38 581.25,379.58 580.52,379.79 579.73,379.99 578.90,380.20 578.04,380.40 577.19,380.61 576.34,380.81 575.54,381.02 574.79,381.22 574.10,381.43 573.51,381.63 573.01,381.84 572.63,382.04 572.36,382.25 572.22,382.45 572.21,382.66 572.33,382.87 572.57,383.07 572.94,383.28 573.42,383.48 574.00,383.69 574.67,383.89 575.41,384.10 576.21,384.30 577.04,384.51 577.90,384.71 578.76,384.92 579.59,385.12 580.39,385.33 581.13,385.53 581.80,385.74 582.38,385.94 582.86,386.15 583.23,386.35 583.47,386.56 583.59,386.76 583.58,386.97 583.44,387.18 583.17,387.38 582.79,387.59 582.29,387.79 581.70,388.00 581.01,388.20 580.26,388.41 579.46,388.61 578.61,388.82 577.76,389.02 576.90,389.23 576.07,389.43 575.28,389.64 574.55,389.84 573.89,390.05 573.33,390.25 572.87,390.46 572.52,390.66 572.30,390.87 572.20,391.08 572.24,391.28 572.40,391.49 572.68,391.69 573.09,391.90 573.60,392.10 574.21,392.31 574.91,392.51 575.67,392.72 576.48,392.92 577.33,393.13 578.19,393.33 579.04,393.54 579.86,393.74 580.65,393.95 581.37,394.15 582.01,394.36 582.55,394.56 582.99,394.77 583.32,394.98 583.52,395.18 583.60,395.39 583.55,395.59 583.36,395.80 583.06,396.00 582.63,396.21 582.10,396.41 581.48,396.62 580.77,396.82 580.00,397.03 579.18,397.23 578.33,397.44 577.47,397.64 576.62,397.85 575.80,398.05 575.03,398.26 574.32,398.46 573.70,398.67 573.17,398.87 572.74,399.08 572.44,399.29 572.25,399.49 572.20,399.70 572.28,399.90 572.48,400.11 572.81,400.31 573.25,400.52 573.79,400.72 574.43,400.93 575.15,401.13 575.94,401.34 576.76,401.54 577.61,401.75 578.47,401.95 579.32,402.16 580.13,402.36 580.89,402.57 581.59,402.77 582.20,402.98 582.71,403.19 583.12,403.39 583.40,403.60 583.56,403.80 583.60,404.01 583.50,404.21 583.28,404.42 582.93,404.62 582.47,404.83 581.91,405.03 581.25,405.24 580.52,405.44 579.73,405.65 578.90,405.85 578.04,406.06 577.19,406.26 576.34,406.47 575.54,406.67 574.79,406.88 574.10,407.08 573.51,407.29 573.01,407.50 572.63,407.70 572.36,407.91 572.22,408.11 572.21,408.32 572.33,408.52 572.57,408.73 572.94,408.93 573.42,409.14 574.00,409.34 574.67,409.55 575.41,409.75 576.21,409.96 577.04,410.16 577.90,410.37 578.76,410.57 579.59,410.78 580.39,410.98 581.13,411.19 581.80,411.39 582.38,411.60 582.86,411.81 583.23,412.01 583.47,412.22 583.59,412.42 583.58,412.63 583.44,412.83 583.17,413.04 582.79,413.24 582.29,413.45 581.70,413.65 581.01,413.86 580.26,414.06 579.46,414.27 578.61,414.47 577.76,414.68 576.90,414.88 576.07,415.09 575.28,415.29 574.55,415.50" fill="none" stroke="#e02a6e" stroke-width="1.80"/>
<rect x="444.3" y="367.8" width="108.7" height="5.5" fill="#aaaaaa"/>
<line x1="445.8" y1="370.61" x2="551.5" y2="370.61" stroke="#e0e0e0" stroke-width="1.41" stroke-dasharray="1.6 2.2"/>
<rect x="444.3" y="377.4" width="108.7" height="5.5" fill="#aaaaaa"/>
<line x1="445.8" y1="380.19" x2="551.5" y2="380.19" stroke="#e0e0e0" stroke-width="1.41" stroke-dasharray="1.6 2.2"/>
<rect x="441.8" y="362.8" width="113.7" height="6.0" rx="3.0" fill="#000"/>
<rect x="441.8" y="372.4" width="113.7" height="6.0" rx="3.0" fill="#000"/>
<rect x="441.8" y="382.0" width="113.7" height="6.0" rx="3.0" fill="#000"/>
<rect x="206.2" y="318" width="155.6" height="25.6" fill="#7ba0c2"/>
<rect x="206.2" y="318" width="155.6" height="1.5" fill="#a098cc"/>
<path d="M248.8,343.6 L319.5,343.6 L319.5,358.1 L252,358.1 Z" fill="#7ba0c2"/>
<path d="M248.8,343.6 L252,343.6 L252,358.1 L248.8,355 Z" fill="#a8a8b8"/>
<rect x="252" y="356.6" width="67.5" height="1.5" fill="#d8a0a8"/>
<rect x="209.0" y="343.6" width="14.9" height="59.8" fill="url(#pillar)"/>
<rect x="209.0" y="343.6" width="2.2" height="59.8" fill="#000"/>
<rect x="221.3" y="343.6" width="2.6" height="59.8" fill="#000"/>
<rect x="345.0" y="343.6" width="14.9" height="59.8" fill="url(#pillar)"/>
<rect x="345.0" y="343.6" width="2.2" height="59.8" fill="#000"/>
<rect x="357.3" y="343.6" width="2.6" height="59.8" fill="#000"/>
<rect x="228" y="379.8" width="112" height="23.6" fill="#8cb6d0"/>
<rect x="206.2" y="403.3" width="155.6" height="34.2" fill="#7ba0c2"/>
<circle cx="239.8" cy="331.2" r="5.1" fill="#e8202a"/>
<circle cx="261.7" cy="331.2" r="5.1" fill="#e8202a"/>
<circle cx="284.6" cy="331.2" r="5.1" fill="#e8202a"/>
<circle cx="307.8" cy="331.2" r="5.1" fill="#e8202a"/>
<circle cx="330.7" cy="331.2" r="5.1" fill="#e8202a"/>
<circle cx="238.6" cy="398.6" r="5.1" fill="#e8202a"/>
<circle cx="261.0" cy="398.6" r="5.1" fill="#e8202a"/>
<circle cx="284.0" cy="398.6" r="5.1" fill="#e8202a"/>
<circle cx="306.5" cy="398.6" r="5.1" fill="#e8202a"/>
<circle cx="330.0" cy="398.6" r="5.1" fill="#e8202a"/>
<rect x="247.3" y="376.4" width="72.7" height="4.2" rx="2.1" fill="#000"/>
<rect x="247.3" y="382.1" width="72.7" height="4.2" rx="2.1" fill="#000"/>
<rect x="247.3" y="388.0" width="72.7" height="4.2" rx="2.1" fill="#000"/>
<g transform="translate(629.00,356.00) scale(-1.0312,1.0000)"><line x1="0.5" y1="17" x2="26" y2="17" stroke="#d4a838" stroke-width="6.20" /><polyline points="17,4.5 28,17 17,29.5" fill="none" stroke="#d4a838" stroke-width="7.60" stroke-linecap="round" stroke-linejoin="round"/><line x1="2" y1="17" x2="25" y2="17" stroke="#a4b442" stroke-width="4.20"/><polyline points="17,4.5 28,17 17,29.5" fill="none" stroke="#a4b442" stroke-width="5.20" stroke-linecap="round" stroke-linejoin="round"/></g>
<g transform="translate(403.00,355.60) scale(-1.0312,1.0000)"><line x1="0.5" y1="17" x2="26" y2="17" stroke="#a8b450" stroke-width="6.20" /><polyline points="17,4.5 28,17 17,29.5" fill="none" stroke="#a8b450" stroke-width="7.60" stroke-linecap="round" stroke-linejoin="round"/><line x1="2" y1="17" x2="25" y2="17" stroke="#4aa8d8" stroke-width="4.20"/><polyline points="17,4.5 28,17 17,29.5" fill="none" stroke="#4aa8d8" stroke-width="5.20" stroke-linecap="round" stroke-linejoin="round"/></g>
<g transform="translate(194.20,357.00) scale(-1.0312,1.0000)"><line x1="0.5" y1="17" x2="26" y2="17" stroke="#e67468" stroke-width="6.00" /><polyline points="17,4.5 28,17 17,29.5" fill="none" stroke="#e67468" stroke-width="7.20" stroke-linecap="round" stroke-linejoin="round"/></g>
<g text-anchor="middle"><text x="162.50" y="124.05" letter-spacing="0.316">Cutting the CF cloth</text><text x="83.30" y="167.60" letter-spacing="0.350">GR solution</text><text x="145.70" y="276.60" letter-spacing="0.375">Preparing the</text><text x="145.50" y="310.50" letter-spacing="0.300">mixed solution</text><text x="454.70" y="264.00" letter-spacing="0.370">Daubing the</text><text x="455.20" y="298.00" letter-spacing="0.200">mixed solution</text><text x="676.00" y="21.85" letter-spacing="0.000">X-CF</text><text x="674.90" y="52.35" letter-spacing="0.300">Y-CF</text><text x="682.40" y="263.20" letter-spacing="0.312">Laying up</text><text x="681.60" y="298.40" letter-spacing="0.385">and compacting</text><text x="503.70" y="464.03" letter-spacing="0.274">Heating infiltrating</text><text x="503.40" y="499.90" letter-spacing="0.429">(vacuum)</text><text x="714.20" y="464.85" letter-spacing="0.470">Solidifying</text><text x="714.70" y="498.80" letter-spacing="0.275">naturally</text><text x="81.80" y="483.05" letter-spacing="0.633">SMPC</text><text x="282.60" y="464.50" letter-spacing="0.150">Heating</text><text x="283.00" y="499.70" letter-spacing="0.467">curring</text><text x="283.60" y="533.80" letter-spacing="0.208">with pressure</text></g>
</svg>
</body></html>
